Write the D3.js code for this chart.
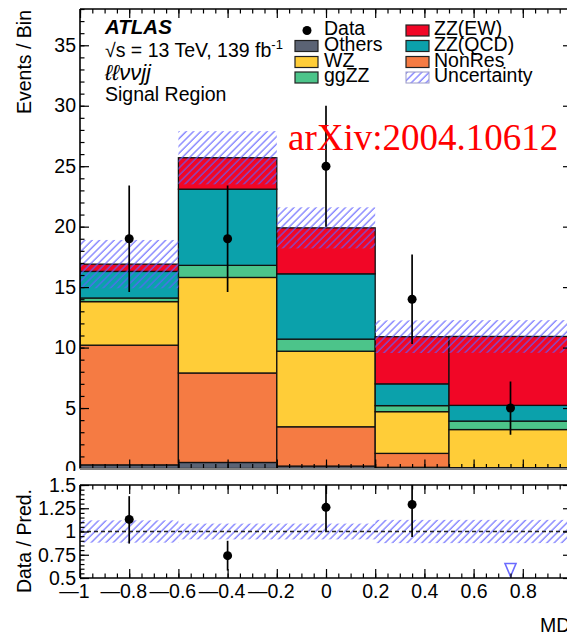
<!DOCTYPE html>
<html><head><meta charset="utf-8">
<script src="https://cdn.jsdelivr.net/npm/d3@7"></script>
<style>
body{margin:0;background:#fff}
svg{display:block}
text{font-family:"Liberation Sans",Arial,Helvetica,sans-serif}
text.serif{font-family:"Liberation Serif","Times New Roman",serif}
</style>
</head><body>
<svg id="c" width="567" height="634"></svg>
<script>
// ---------------- data ----------------
const binEdges   = [-1, -0.6, -0.2, 0.2, 0.5, 1.0];
const binCenters = [-0.8, -0.4, 0, 0.35, 0.75];
const components = ["Others", "NonRes", "WZ", "ggZZ", "ZZ(QCD)", "ZZ(EW)"];
const others  = [0.3, 0.5, 0.2, 0.1, 0.05];
const nonRes  = [9.9, 7.4, 3.25, 1.15, 0.02];
const wz      = [3.6, 7.9, 6.25, 3.45, 3.15];
const ggzz    = [0.3, 1.0, 1.0, 0.5, 0.7];
const zzQCD   = [2.2, 6.3, 5.4, 1.8, 1.3];
const zzEW    = [0.6, 2.6, 3.8, 3.9, 5.7];
const uncHalf = [2.0, 2.2, 1.7, 1.35, 1.35];
const dataVals    = [19, 19, 25, 14, 5];
const dataErrUp   = [4.4, 4.4, 5.0, 3.7, 2.2];
const dataErrDown = [4.4, 4.4, 5.0, 3.7, 2.2];
const ratioVals = [1.13, 0.74, 1.26, 1.29, 0.46];
const ratioLo   = [0.87, 0.58, 1.0, 0.94, 0.46];
const ratioHi   = [1.38, 0.90, 1.75, 1.62, 0.46];
const ratioUncHalf = [0.12, 0.085, 0.085, 0.125, 0.125];
const yTicksMain  = [0, 5, 10, 15, 20, 25, 30, 35];
const yTicksRatio = [0.5, 0.75, 1, 1.25, 1.5];
const xTicks = [-1, -0.8, -0.6, -0.4, -0.2, 0, 0.2, 0.4, 0.6, 0.8, 1];
const colors = {"Others":"#5b6374","NonRes":"#f57b43","WZ":"#ffcd38","ggZZ":"#4cc48a","ZZ(QCD)":"#0ba1ab","ZZ(EW)":"#f10626"};
const legendLeft  = ["Data", "Others", "WZ", "ggZZ"];
const legendRight = ["ZZ(EW)", "ZZ(QCD)", "NonRes", "Uncertainty"];

// ---------------- setup ----------------
const svg = d3.select("#c");
svg.append("rect").attr("width",567).attr("height",634).attr("fill","#fff");
const FS = 19.5;
const L = 80, R = 572, T = 9, B = 468.5, RT = 485, RB = 578;
const x  = d3.scaleLinear().domain([-1, 1]).range([L, R]);
const y  = d3.scaleLinear().domain([0, 38]).range([B, T]);
const yr = d3.scaleLinear().domain([0.5, 1.5]).range([RB, RT]);

const defs = svg.append("defs");
const pat = defs.append("pattern").attr("id","hatch").attr("patternUnits","userSpaceOnUse")
  .attr("width",5.2).attr("height",5.2).attr("patternTransform","rotate(45)");
pat.append("line").attr("x1",1).attr("y1",0).attr("x2",1).attr("y2",5.2)
  .attr("stroke","#5f5fff").attr("stroke-width",1.35).attr("stroke-opacity",0.8);
defs.append("clipPath").attr("id","clipMain").append("rect").attr("x",L).attr("y",T).attr("width",R-L).attr("height",B-T);
defs.append("clipPath").attr("id","clipRatio").append("rect").attr("x",L).attr("y",RT).attr("width",R-L).attr("height",RB-RT);

// ---------------- stack ----------------
const series = {"Others":others,"NonRes":nonRes,"WZ":wz,"ggZZ":ggzz,"ZZ(QCD)":zzQCD,"ZZ(EW)":zzEW};
const table = binCenters.map((c,i)=>{const o={i}; components.forEach(k=>o[k]=series[k][i]); return o;});
const stacked = d3.stack().keys(components)(table);
const totals = table.map(r=>d3.sum(components, k=>r[k]));

const gMain = svg.append("g").attr("clip-path","url(#clipMain)");
stacked.forEach(layer=>{
  gMain.append("g").selectAll("rect").data(layer).join("rect")
    .attr("x",(d,i)=>x(binEdges[i]))
    .attr("width",(d,i)=>x(binEdges[i+1])-x(binEdges[i]))
    .attr("y",d=>y(d[1]))
    .attr("height",d=>Math.max(0,y(d[0])-y(d[1])))
    .attr("fill",colors[layer.key])
    .attr("stroke","#111").attr("stroke-width",1.3);
});
// uncertainty band
gMain.append("g").selectAll("rect").data(totals).join("rect")
  .attr("x",(d,i)=>x(binEdges[i]))
  .attr("width",(d,i)=>x(binEdges[i+1])-x(binEdges[i]))
  .attr("y",(d,i)=>y(d+uncHalf[i]))
  .attr("height",(d,i)=>y(d-uncHalf[i])-y(d+uncHalf[i]))
  .attr("fill","url(#hatch)");
// data
gMain.append("g").selectAll("line").data(dataVals).join("line")
  .attr("x1",(d,i)=>x(binCenters[i])).attr("x2",(d,i)=>x(binCenters[i]))
  .attr("y1",(d,i)=>y(d+dataErrUp[i])).attr("y2",(d,i)=>y(d-dataErrDown[i]))
  .attr("stroke","#000").attr("stroke-width",1.7);
gMain.append("g").selectAll("circle").data(dataVals).join("circle")
  .attr("cx",(d,i)=>x(binCenters[i])).attr("cy",d=>y(d)).attr("r",4.5).attr("fill","#000");

// ---------------- axes helper ----------------
function styleAxis(g){
  g.attr("font-family",null).attr("font-size",null);
  g.select(".domain").remove();
  g.selectAll("line").attr("stroke","#000").attr("stroke-width",1.2);
  g.selectAll("text").attr("font-size",FS).attr("fill","#000");
  return g;
}
const fmtX = d => d===1 ? "" : d===0 ? "0" : (d<0 ? "\u2014"+Math.abs(d) : String(d));
const xMinor = d3.range(0,41).map(i=>-1+i*0.05);
const yMinor = d3.range(0,39);
const rMinor = d3.range(0,21).map(i=>0.5+i*0.05);

function frameTicks(xs, ys, top, bottom, yMaj, yMin, labelsX, yFmt){
  styleAxis(svg.append("g").attr("transform",`translate(0,${bottom})`)
    .call(d3.axisBottom(xs).tickValues(xMinor).tickSizeInner(-4.5).tickSizeOuter(0).tickFormat("")));
  const gb = styleAxis(svg.append("g").attr("transform",`translate(0,${bottom})`)
    .call(d3.axisBottom(xs).tickValues(xTicks).tickSizeInner(-9).tickSizeOuter(0).tickPadding(6)
      .tickFormat(labelsX ? fmtX : "")));
  if(labelsX) gb.selectAll("text").attr("dx",d=>d<0?-6:0);
  styleAxis(svg.append("g").attr("transform",`translate(0,${top})`)
    .call(d3.axisTop(xs).tickValues(xMinor).tickSizeInner(-4.5).tickSizeOuter(0).tickFormat("")));
  styleAxis(svg.append("g").attr("transform",`translate(0,${top})`)
    .call(d3.axisTop(xs).tickValues(xTicks).tickSizeInner(-9).tickSizeOuter(0).tickFormat("")));
  styleAxis(svg.append("g").attr("transform",`translate(${L},0)`)
    .call(d3.axisLeft(ys).tickValues(yMin).tickSizeInner(-4.5).tickSizeOuter(0).tickFormat("")));
  styleAxis(svg.append("g").attr("transform",`translate(${L},0)`)
    .call(d3.axisLeft(ys).tickValues(yMaj).tickSizeInner(-9).tickSizeOuter(0).tickPadding(4).tickFormat(yFmt)));
  styleAxis(svg.append("g").attr("transform",`translate(${R},0)`)
    .call(d3.axisRight(ys).tickValues(yMin).tickSizeInner(-4.5).tickSizeOuter(0).tickFormat("")));
  styleAxis(svg.append("g").attr("transform",`translate(${R},0)`)
    .call(d3.axisRight(ys).tickValues(yMaj).tickSizeInner(-9).tickSizeOuter(0).tickFormat("")));
}

// main frame
frameTicks(x, y, T, B, yTicksMain, yMinor, false, d=>String(d));
svg.append("line").attr("x1",L).attr("x2",R).attr("y1",T).attr("y2",T).attr("stroke","#000").attr("stroke-width",1.6);
svg.append("line").attr("x1",L).attr("x2",L).attr("y1",T).attr("y2",B).attr("stroke","#000").attr("stroke-width",1.6);
svg.append("line").attr("x1",R).attr("x2",R).attr("y1",T).attr("y2",B).attr("stroke","#000").attr("stroke-width",1.6);
svg.append("line").attr("x1",L).attr("x2",R).attr("y1",B+0.5).attr("y2",B+0.5).attr("stroke","#808080").attr("stroke-width",1.8);

// ---------------- ratio pad ----------------
svg.append("rect").attr("x",0).attr("y",471).attr("width",567).attr("height",163).attr("fill","#fff");
const gR = svg.append("g").attr("clip-path","url(#clipRatio)");
gR.append("g").selectAll("rect").data(ratioUncHalf).join("rect")
  .attr("x",(d,i)=>x(binEdges[i]))
  .attr("width",(d,i)=>x(binEdges[i+1])-x(binEdges[i]))
  .attr("y",d=>yr(1+d)).attr("height",d=>yr(1-d)-yr(1+d))
  .attr("fill","url(#hatch)");
gR.append("line").attr("x1",L).attr("x2",R).attr("y1",yr(1)).attr("y2",yr(1))
  .attr("stroke","#222").attr("stroke-width",1.3).attr("stroke-dasharray","4,3");
const inRange = ratioVals.map((v,i)=>({v,i})).filter(d=>d.v>=0.5);
const below   = ratioVals.map((v,i)=>({v,i})).filter(d=>d.v<0.5);
gR.append("g").selectAll("line").data(inRange).join("line")
  .attr("x1",d=>x(binCenters[d.i])).attr("x2",d=>x(binCenters[d.i]))
  .attr("y1",d=>yr(ratioHi[d.i])).attr("y2",d=>yr(ratioLo[d.i]))
  .attr("stroke","#000").attr("stroke-width",1.7);
gR.append("g").selectAll("circle").data(inRange).join("circle")
  .attr("cx",d=>x(binCenters[d.i])).attr("cy",d=>yr(d.v)).attr("r",4.5).attr("fill","#000");
gR.append("g").selectAll("path").data(below).join("path")
  .attr("d",d=>{const cx=x(binCenters[d.i]), by=yr(0.5)-1.5; return `M${cx-5.5},${by-13}L${cx+5.5},${by-13}L${cx},${by}Z`;})
  .attr("fill","none").attr("stroke","#6b6bff").attr("stroke-width",1.6);

frameTicks(x, yr, RT, RB, yTicksRatio, rMinor, true, d=>String(d));
[[L,RT,R,RT],[L,RB,R,RB],[L,RT,L,RB],[R,RT,R,RB]].forEach(c=>
  svg.append("line").attr("x1",c[0]).attr("y1",c[1]).attr("x2",c[2]).attr("y2",c[3]).attr("stroke","#000").attr("stroke-width",1.6));

// ---------------- titles ----------------
svg.append("text").attr("transform","translate(31,10) rotate(-90)").attr("text-anchor","end")
  .attr("font-size",FS).text("Events / Bin");
svg.append("text").attr("transform","translate(31,489) rotate(-90)").attr("text-anchor","end")
  .attr("font-size",FS).text("Data / Pred.");
svg.append("text").attr("x",540).attr("y",632).attr("font-size",FS).text("MD");

// ATLAS labels
svg.append("text").attr("x",105).attr("y",34).attr("font-size",20.5).attr("font-weight","bold").attr("font-style","italic").text("ATLAS");
const t2 = svg.append("text").attr("x",105).attr("y",57).attr("font-size",FS);
t2.append("tspan").text("\u221As = 13 TeV, 139 fb");
t2.append("tspan").attr("font-size",13).attr("dy",-8).text("-1");
svg.append("text").attr("x",105).attr("y",80).attr("font-size",22).attr("font-style","italic").text("\u2113\u2113\u03BD\u03BDjj");
svg.append("text").attr("x",105).attr("y",101).attr("font-size",FS).text("Signal Region");

// watermark
svg.append("text").attr("class","serif").attr("x",288).attr("y",150).attr("font-size",37).attr("fill","#ff0000")
  .text("arXiv:2004.10612");

// ---------------- legend ----------------
const rowBase = [35, 50.5, 66.5, 82];
function legendEntry(name, bx, tx, j){
  const cy = rowBase[j]-4.5;
  if(name==="Data"){
    svg.append("circle").attr("cx",bx+12).attr("cy",cy).attr("r",4.5).attr("fill","#000");
  } else if(name==="Uncertainty"){
    svg.append("rect").attr("x",bx).attr("y",cy-5.5).attr("width",23).attr("height",11)
      .attr("fill","url(#hatch)").attr("stroke","#9a9ac8").attr("stroke-width",1);
  } else {
    svg.append("rect").attr("x",bx).attr("y",cy-5.5).attr("width",23).attr("height",11)
      .attr("fill",colors[name]).attr("stroke","#222").attr("stroke-width",1.2);
  }
  svg.append("text").attr("x",tx).attr("y",rowBase[j]).attr("font-size",FS).text(name);
}
legendLeft.forEach((n,j)=>legendEntry(n,295,324,j));
legendRight.forEach((n,j)=>legendEntry(n,406,434,j));
</script>
</body></html>
